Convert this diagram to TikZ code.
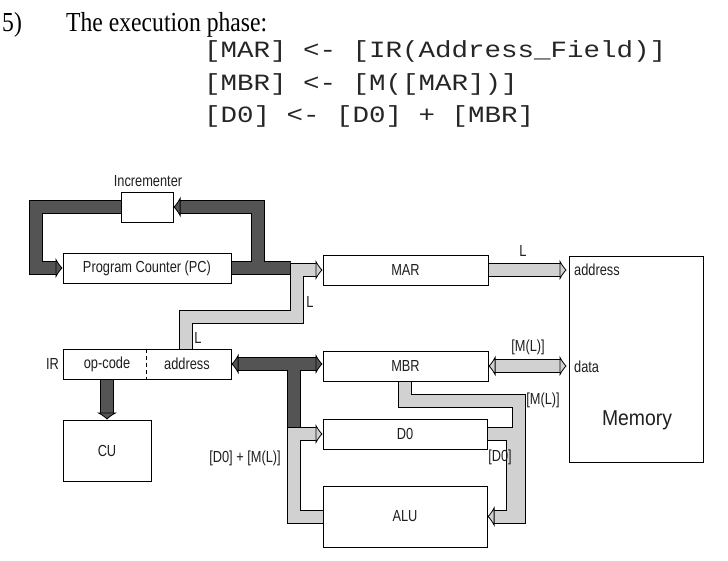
\documentclass[tikz,border=0pt]{standalone}
\usepackage{fontspec}
\setmainfont{Liberation Sans}
\newfontfamily\diagfont[FakeStretch=0.8]{Liberation Sans}
\newfontfamily\memfont[FakeStretch=0.9]{Liberation Sans}
\newfontfamily\headfont[FakeStretch=0.86]{Liberation Serif}
\newfontfamily\codefont[FakeStretch=1.18]{Liberation Mono}
\usetikzlibrary{arrows.meta}
\pgfdeclarelayer{bands}
\pgfsetlayers{bands,main}
\definecolor{dkg}{gray}{0.33}
\definecolor{ltg}{gray}{0.82}
\definecolor{txt}{gray}{0.12}
\tikzset{
  box/.style={draw=black, line width=1pt, fill=white, inner sep=0pt,
    font=\diagfont\fontsize{16}{18}\selectfont, text=txt},
  lbl/.style={inner sep=0pt, font=\diagfont\fontsize{16}{18}\selectfont, text=txt},
  codeline/.style={anchor=base west, inner sep=0pt, font=\codefont\fontsize{23.3}{26}\selectfont, text=black!85},
  headline/.style={anchor=base west, inner sep=0pt, font=\headfont\fontsize{27.5}{30}\selectfont},
  bout/.style={line width=14pt, draw=black, line join=miter},
  endshort/.style={shorten >=6pt},
  bothshort/.style={shorten >=6pt, shorten <=6pt},
  dfill/.style={line width=12pt, draw=dkg, line join=miter},
  lfill/.style={line width=12pt, draw=ltg, line join=miter},
  dtip/.style={-{Latex[length=7pt,width=21pt,line width=0.8pt,fill=dkg,color=black]}},
  dtips/.style={{Latex[length=7pt,width=21pt,line width=0.8pt,fill=dkg,color=black]}-{Latex[length=7pt,width=21pt,line width=0.8pt,fill=dkg,color=black]}},
  ltip/.style={-{Latex[length=7pt,width=21pt,line width=0.8pt,fill=ltg,color=black]}},
  ltips/.style={{Latex[length=7pt,width=21pt,line width=0.8pt,fill=ltg,color=black]}-{Latex[length=7pt,width=21pt,line width=0.8pt,fill=ltg,color=black]}},
}
\begin{document}
\begin{tikzpicture}[x=1pt,y=-1pt]
\useasboundingbox (0,0) rectangle (728,560);

% header
\node[headline] (num) at (2,31) {5)};
\node[headline] (title) at (66,31) {The execution phase:};
\node[codeline] (c1) at (204,57) {[MAR] <- [IR(Address\_Field)]};
\node[codeline] (c2) at (204,90) {[MBR] <- [M([MAR])]};
\node[codeline] (c3) at (204,122) {[D0] <- [D0] + [MBR]};

% boxes
\node[box, minimum width=52pt, minimum height=30pt] (inc) at (147,207) {};
\node[box, minimum width=168pt, minimum height=30pt] (pc) at (147,268) {Program Counter (PC)};
\node[box, minimum width=165pt, minimum height=30pt] (mar) at (405.5,270) {MAR};
\node[box, minimum width=165pt, minimum height=30pt] (mbr) at (405.5,366) {MBR};
\node[box, minimum width=164pt, minimum height=30pt] (d0) at (405,434) {D0};
\node[box, minimum width=164pt, minimum height=61pt] (alu) at (405,516.5) {ALU};
\node[box, minimum width=168pt, minimum height=30pt] (ir) at (147,364) {};
\node[box, minimum width=88pt, minimum height=61pt] (cu) at (107,450.5) {CU};
\node[box, line width=0.8pt, minimum width=134pt, minimum height=206pt] (mem) at (636,359) {};

% IR contents
\draw[line width=0.9pt, dash pattern=on 4pt off 3pt] (ir.north -| 146,0) -- (ir.south -| 146,0);
\node[lbl] (opc) at (107,364) {op-code};
\node[lbl] (ira) at (187,364) {address};
\node[lbl, anchor=east] (irl) at (59,364) {IR};

% labels
\node[lbl] (incl) at (148,181) {Incrementer};
\node[lbl, anchor=west] (mema) at (574,270) {address};
\node[lbl, anchor=west] (memd) at (574,367) {data};
\node[inner sep=0pt, font=\memfont\fontsize{21.5}{24}\selectfont, text=txt] (meml) at (637,420) {Memory};
\node[lbl] (l1) at (523,251) {L};
\node[lbl] (l2) at (310,302) {L};
\node[lbl] (l3) at (198,338) {L};
\node[lbl] (ml1) at (528,347) {[M(L)]};
\node[lbl] (ml2) at (543,400) {[M(L)]};
\node[lbl] (d0l) at (500,457) {[D0]};
\node[lbl] (sum) at (245,458) {[D0] + [M(L)]};

% bend coordinates
\coordinate (lpA) at (36,207);
\coordinate (lpB) at (36,268);
\coordinate (lpC) at (257.5,268);
\coordinate (lpD) at (257.5,207);
\coordinate (pcE) at (291,268);
\coordinate (tjA) at (293.5,364);
\coordinate (tjB) at (293.5,427);
\coordinate (cuA) at (107,379);
\coordinate (lA) at (185.5,349);
\coordinate (lB) at (185.5,316.5);
\coordinate (lC) at (297,316.5);
\coordinate (lD) at (297,270);
\coordinate (mA) at (404.5,381);
\coordinate (mB) at (404.5,400.5);
\coordinate (mC) at (519,400.5);
\coordinate (mD) at (519,516.5);
\coordinate (dA) at (513,434);
\coordinate (dB) at (513,516.5);
\coordinate (aA) at (293.5,516.5);
\coordinate (aB) at (293.5,434);

\begin{pgfonlayer}{bands}
% dark outlines
\draw[bout, endshort] (inc.west) -- (lpA) -- (lpB) -- (pc.west);
\draw[bout, endshort] (lpC) -- (lpD) -- (inc.east);
\draw[bout] (pc.east) -- (pcE);
\draw[bout, bothshort] (ir.east) -- (ir.east -| mbr.west);
\draw[bout] (tjA) -- (tjB);
\draw[bout, endshort] (cuA) -- (cu.north);
% dark fills
\draw[dfill, dtip] (inc.west) -- (lpA) -- (lpB) -- (pc.west);
\draw[dfill, dtip] (lpC) -- (lpD) -- (inc.east);
\draw[dfill] (pc.east) -- (pcE);
\draw[dfill, dtips] (ir.east) -- (ir.east -| mbr.west);
\draw[dfill] (tjA) -- (tjB);
\draw[dfill, dtip] (cuA) -- (cu.north);
% light outlines
\draw[bout, endshort] (lA) -- (lB) -- (lC) -- (lD) -- (mar.west);
\draw[bout, endshort] (mar.east) -- ([xshift=-2pt]mem.west |- mar.east);
\draw[bout, bothshort] (mbr.east) -- ([xshift=-2pt]mem.west |- mbr.east);
\draw[bout, endshort] (mA) -- (mB) -- (mC) -- (mD) -- (alu.east);
\draw[bout] (d0.east) -- (dA) -- (dB);
\draw[bout, endshort] (alu.west) -- (aA) -- (aB) -- (d0.west);
% light fills
\draw[lfill] (d0.east) -- (dA) -- (dB);
\draw[lfill, ltip] (mA) -- (mB) -- (mC) -- (mD) -- (alu.east);
\draw[lfill, ltip] (lA) -- (lB) -- (lC) -- (lD) -- (mar.west);
\draw[lfill, ltip] (mar.east) -- ([xshift=-2pt]mem.west |- mar.east);
\draw[lfill, ltips] (mbr.east) -- ([xshift=-2pt]mem.west |- mbr.east);
\draw[lfill, ltip] (alu.west) -- (aA) -- (aB) -- (d0.west);
\end{pgfonlayer}
\end{tikzpicture}
\end{document}
